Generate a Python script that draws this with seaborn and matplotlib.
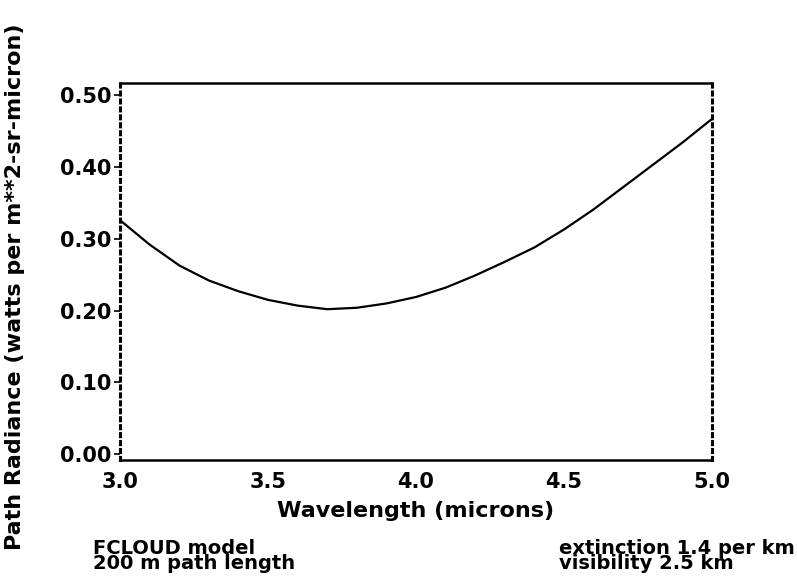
import numpy as np
import pandas as pd
import matplotlib
matplotlib.use("Agg")
import matplotlib.pyplot as plt
import seaborn as sns

# Data
wavelength = [3.0, 3.1, 3.2, 3.3, 3.4, 3.5, 3.6, 3.7, 3.8, 3.9, 4.0,
              4.1, 4.2, 4.3, 4.4, 4.5, 4.6, 4.7, 4.8, 4.9, 5.0]
radiance = [0.326, 0.292, 0.263, 0.242, 0.227, 0.215, 0.207, 0.202, 0.204, 0.210,
            0.219, 0.232, 0.249, 0.268, 0.288, 0.313, 0.341, 0.372, 0.403, 0.434,
            0.467]
x_ticks = [3.0, 3.5, 4.0, 4.5, 5.0]
y_ticks = [0.00, 0.10, 0.20, 0.30, 0.40, 0.50]
x_label = "Wavelength (microns)"
y_label = "Path Radiance (watts per m**2-sr-micron)"
note_left = "FCLOUD model\n200 m path length"
note_right = "extinction 1.4 per km\nvisibility 2.5 km"

df = pd.DataFrame({"wavelength": wavelength, "radiance": radiance})

sns.set_theme(style="white")
plt.rcParams["font.family"] = ["DejaVu Sans"]
plt.rcParams["text.color"] = "black"
plt.rcParams["axes.labelcolor"] = "black"
plt.rcParams["xtick.color"] = "black"
plt.rcParams["ytick.color"] = "black"

W, H = 797, 584
fig = plt.figure(figsize=(W / 100, H / 100), dpi=100)
# axes box: left 120, right 712, top 83, bottom 460 (pixels)
ax = fig.add_axes([120 / W, 1 - 460 / H, (712 - 120) / W, (460 - 83) / H])

sns.lineplot(data=df, x="wavelength", y="radiance", ax=ax, color="black",
             linewidth=1.6)

ax.set_xlim(3.0, 5.0)
ax.set_ylim(-0.008, 0.517)
ax.set_xticks(x_ticks)
ax.set_xticklabels([f"{v:.1f}" for v in x_ticks], fontsize=15, fontweight="bold")
ax.set_yticks(y_ticks)
ax.set_yticklabels([f"{v:.2f}" for v in y_ticks], fontsize=15, fontweight="bold")
ax.tick_params(axis="y", direction="out", length=4, width=1.2, color="black",
               left=True, pad=2)
ax.tick_params(axis="x", length=0, pad=9)

ax.set_xlabel(x_label, fontsize=16, fontweight="bold", labelpad=6)
ax.set_ylabel(y_label, fontsize=16, fontweight="bold")
ax.yaxis.set_label_coords((25 - 120) / (712 - 120), (460 - 287) / (460 - 83))

for side in ["left", "right"]:
    ax.spines[side].set_linestyle((0, (1, 1.6)))
    ax.spines[side].set_linewidth(2.2)
    ax.spines[side].set_color("black")
for side in ["top", "bottom"]:
    ax.spines[side].set_linewidth(1.8)
    ax.spines[side].set_color("black")

fig.text(93 / W, 1 - 556 / H, note_left, fontsize=14, fontweight="bold",
         linespacing=0.7, ha="left", va="center")
fig.text(795 / W, 1 - 556 / H, note_right, fontsize=14, fontweight="bold",
         linespacing=0.7, ha="right", va="center", multialignment="left")

fig.savefig("out.png", dpi=100, facecolor="white")
